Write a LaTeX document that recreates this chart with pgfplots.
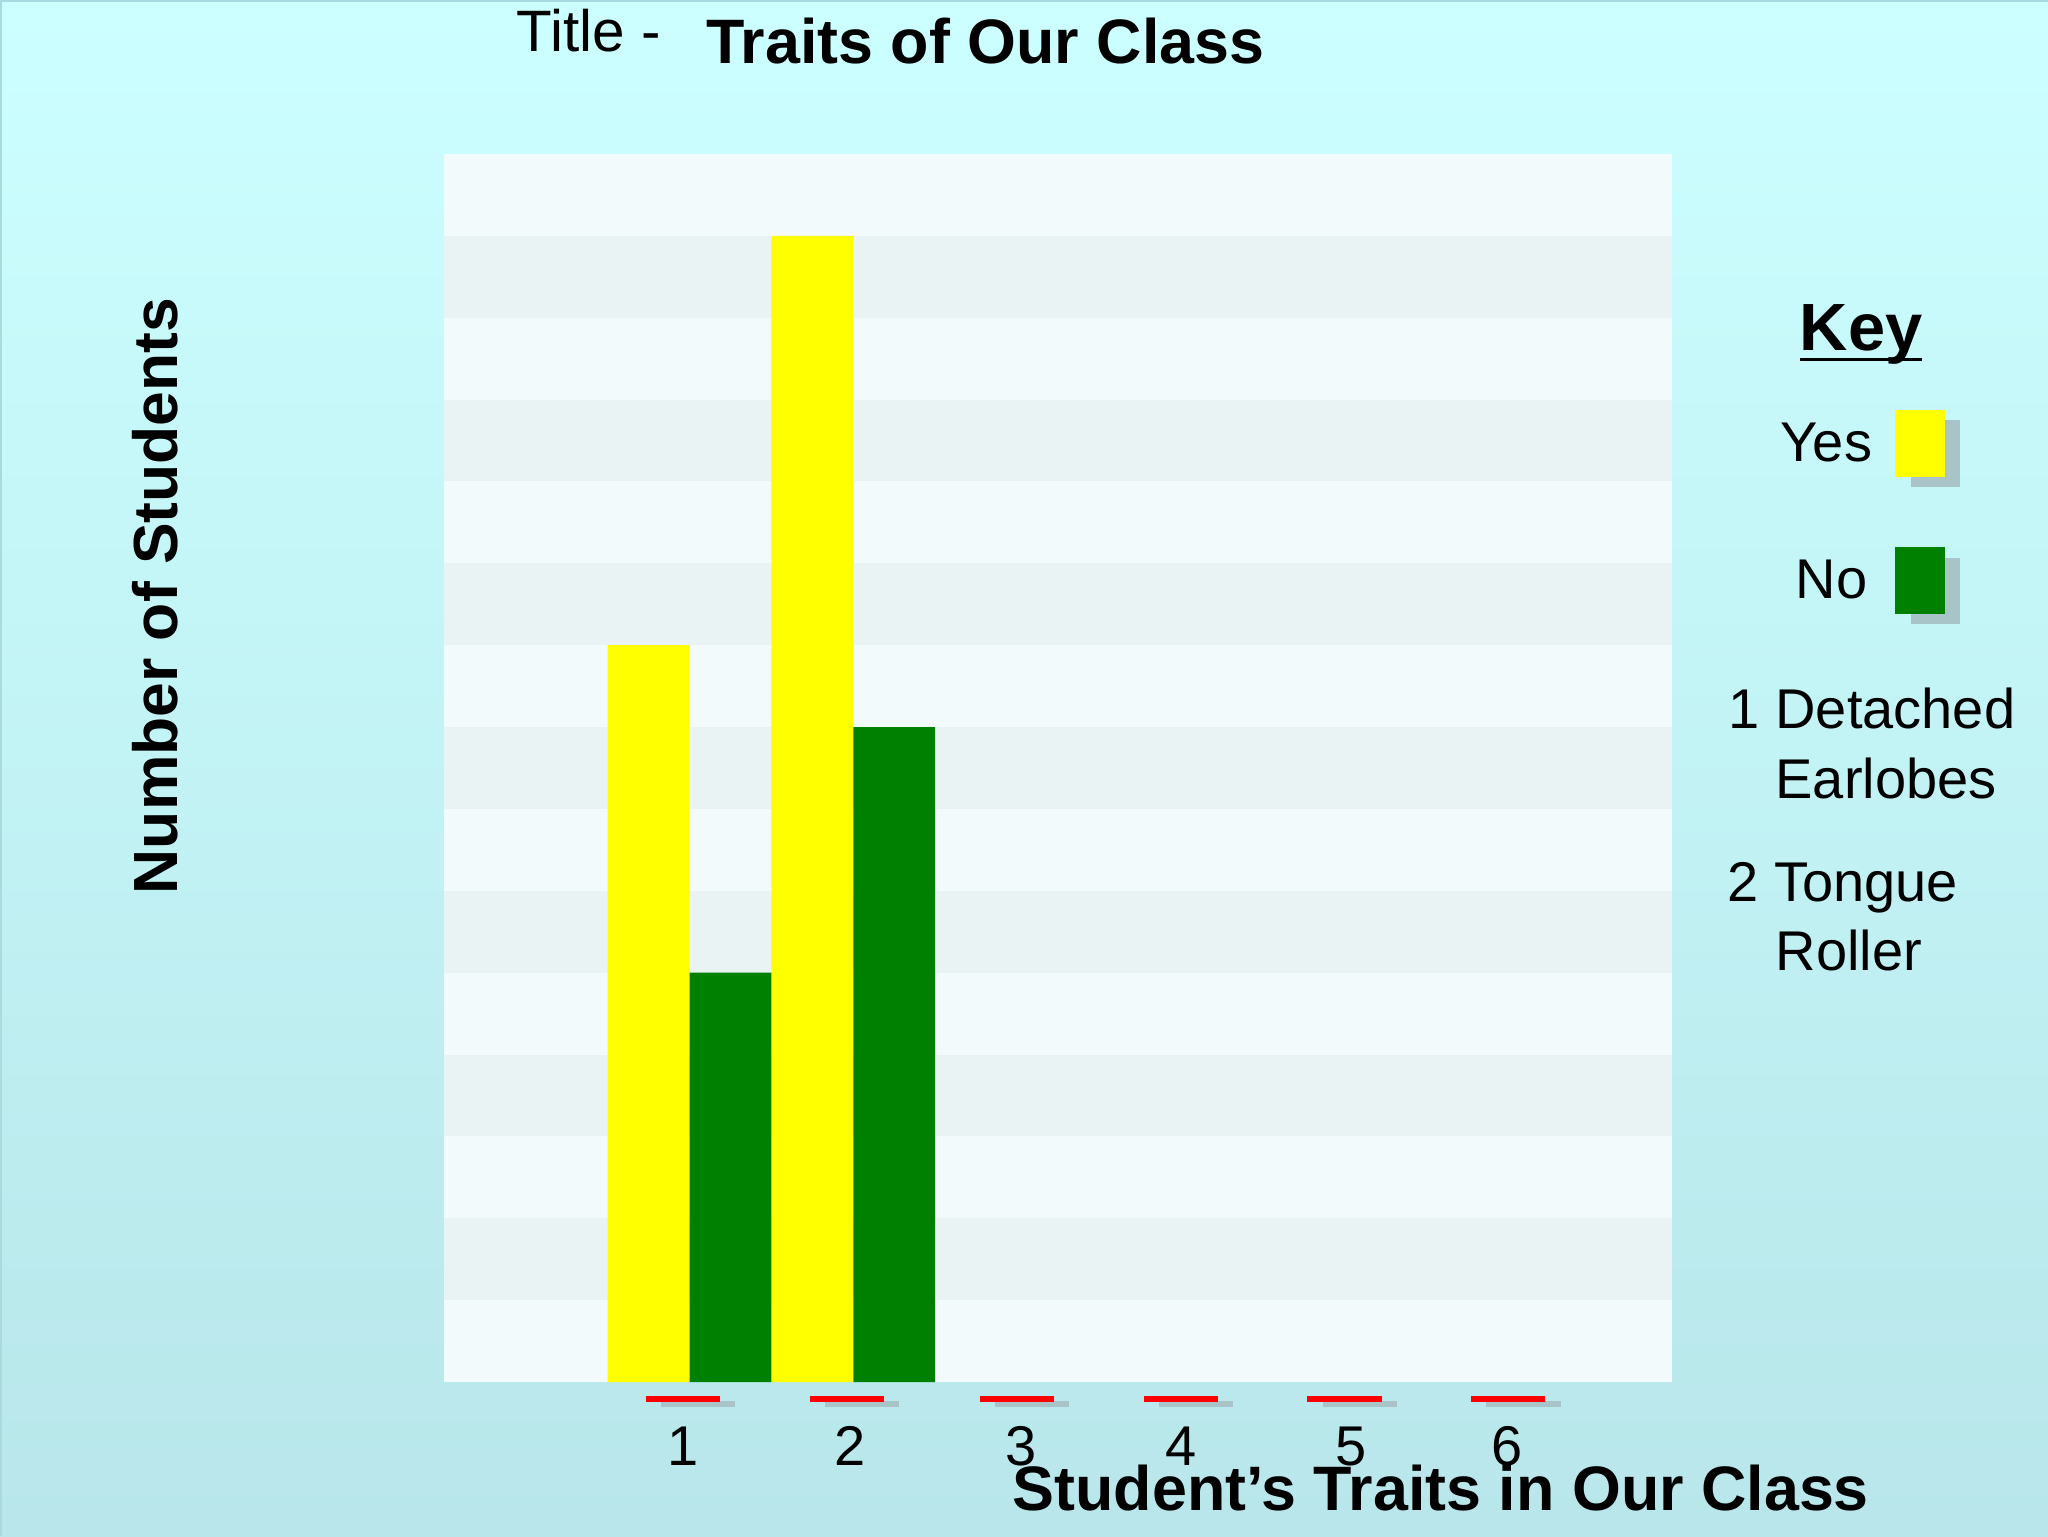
\documentclass[border=0pt]{standalone}
\usepackage{fontspec}
\setmainfont{Liberation Sans}
\usepackage{pgfplots}
\pgfplotsset{compat=1.18}

\definecolor{bgtop}{RGB}{204,255,255}
\definecolor{bgbot}{RGB}{184,230,234}
\definecolor{bandlight}{RGB}{243,250,251}
\definecolor{banddark}{RGB}{233,243,244}
\definecolor{yesyellow}{RGB}{255,255,0}
\definecolor{nogreen}{RGB}{0,128,0}
\definecolor{keyshadow}{RGB}{168,196,200}
\definecolor{edge}{RGB}{168,218,224}

\newcommand{\reg}{\fontsize{14pt}{17pt}\selectfont}
\newcommand{\bld}{\fontsize{15.7pt}{18pt}\selectfont\bfseries}

\begin{document}
\begin{tikzpicture}
\useasboundingbox (0,0) rectangle (512pt,384pt);
\shade[top color=bgtop, bottom color=bgbot] (0,0) rectangle (512pt,384pt);
\draw[edge, line width=0.6pt] (0.3pt,0) -- (0.3pt,383.7pt) -- (512pt,383.7pt);

\begin{axis}[
    at={(111pt,38.5pt)}, anchor=south west,
    width=307pt, height=307pt, scale only axis,
    xmin=-0.5, xmax=7, ymin=0, ymax=15,
    axis background/.style={fill=bandlight},
    axis line style={draw=none},
    ytick=\empty,
    xtick={1,2,3,4,5,6},
    xticklabels={\kern-3.2pt 1, \kern-1.4pt 2, \kern2pt 3, 4, \kern3.2pt 5, \kern-0.6pt 6},
    major tick length=0pt,
    xticklabel style={anchor=base, yshift=-20.8pt, inner sep=0pt, font=\reg},
    /pgf/number format/assume math mode=true,
    clip=false,
]
    % alternating horizontal bands
    \pgfplotsinvokeforeach{1,3,5,7,9,11,13}{
        \fill[banddark] (axis cs:-0.5,#1) rectangle (axis cs:7,#1+1);
    }
    % category markers under the axis (shadow, then red)
    \addplot[only marks, mark=-, mark size=9.3pt,
        mark options={draw=keyshadow, line width=1.5pt, xshift=3.8pt, yshift=-1.2pt}]
        coordinates {(0.96,-0.21) (1.96,-0.21) (3,-0.21) (4,-0.21) (5,-0.21) (6,-0.21)};
    \addplot[only marks, mark=-, mark size=9.3pt,
        mark options={draw=red, line width=1.6pt}]
        coordinates {(0.96,-0.21) (1.96,-0.21) (3,-0.21) (4,-0.21) (5,-0.21) (6,-0.21)};
    % Yes
    \addplot[ybar, bar width=20.47pt, bar shift=-10.23pt, fill=yesyellow, draw=none]
        coordinates {(1,9) (2,14)};
    % No
    \addplot[ybar, bar width=20.47pt, bar shift=10.23pt, fill=nogreen, draw=none]
        coordinates {(1,5) (2,8)};
\end{axis}

% titles
\node[anchor=base west, inner sep=0pt, font=\fontsize{14.6pt}{17pt}\selectfont] at (129pt,371pt) {Title -};
\node[anchor=base west, inner sep=0pt, font=\bld] at (176.3pt,368.2pt) {Traits of Our Class};
\node[anchor=center, rotate=90, inner sep=0pt, font=\fontsize{15.6pt}{18pt}\selectfont\bfseries] at (38.7pt,235pt) {Number of Students};
\node[anchor=base, inner sep=0pt, font=\bld] at (360.2pt,6.3pt) {Student’s Traits in Our Class};

% key
\node[anchor=base, inner sep=0pt, font=\fontsize{16.7pt}{19pt}\selectfont\bfseries] at (465.3pt,296.5pt) {Key};
\draw[line width=0.8pt] (450pt,294.2pt) -- (480.6pt,294.2pt);

\node[anchor=base east, inner sep=0pt, font=\reg] at (468.2pt,268.7pt) {Yes};
\fill[keyshadow] (477.7pt,262.2pt) rectangle ++(12.4pt,16.7pt);
\fill[yesyellow] (473.8pt,264.8pt) rectangle (486.2pt,281.5pt);

\node[anchor=base east, inner sep=0pt, font=\reg] at (467pt,234.5pt) {No};
\fill[keyshadow] (477.7pt,227.9pt) rectangle ++(12.4pt,16.7pt);
\fill[nogreen] (473.8pt,230.5pt) rectangle (486.2pt,247.2pt);

\node[anchor=base west, inner sep=0pt, font=\reg] at (432pt,201.8pt) {1 Detached};
\node[anchor=base west, inner sep=0pt, font=\reg] at (443.7pt,184.5pt) {Earlobes};
\node[anchor=base west, inner sep=0pt, font=\reg] at (431.7pt,158.7pt) {2 Tongue};
\node[anchor=base west, inner sep=0pt, font=\reg] at (443.7pt,141.5pt) {Roller};
\end{tikzpicture}
\end{document}
